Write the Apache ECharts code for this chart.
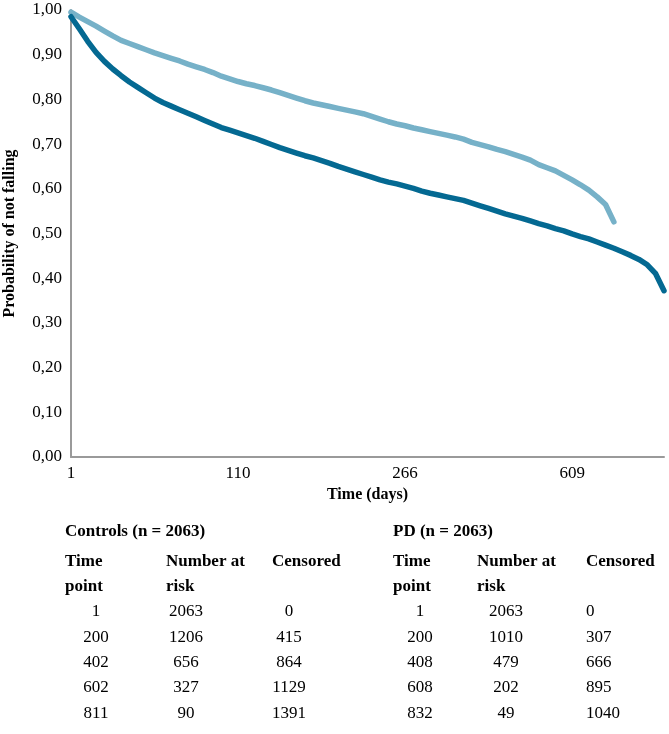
<!DOCTYPE html>
<html>
<head>
<meta charset="utf-8">
<script src="https://cdn.jsdelivr.net/npm/echarts@6/dist/echarts.min.js"></script>
<style>
  html, body { margin: 0; padding: 0; background: #fff; }
  #chart { width: 669px; height: 734px; }
</style>
</head>
<body>
<div id="chart"></div>
<script>
// x axis: one category per step, a tick label every 20 steps
const tickLabels = ['1', '110', '266', '609'];
const stepsPerTick = 20;

// probability of not falling
const darkCurve = [
  0.985, 0.958, 0.930, 0.905, 0.885, 0.868, 0.853, 0.839, 0.827, 0.815,
  0.803, 0.793, 0.785, 0.777, 0.769, 0.761, 0.753, 0.745, 0.737, 0.731,
  0.725, 0.719, 0.713, 0.706, 0.699, 0.692, 0.686, 0.680, 0.674, 0.669,
  0.663, 0.657, 0.650, 0.644, 0.638, 0.632, 0.626, 0.620, 0.615, 0.611,
  0.606, 0.601, 0.595, 0.590, 0.586, 0.582, 0.578, 0.574, 0.568, 0.562,
  0.556, 0.550, 0.544, 0.539, 0.534, 0.528, 0.522, 0.517, 0.511, 0.506,
  0.499, 0.493, 0.488, 0.481, 0.474, 0.467, 0.459, 0.451, 0.442, 0.430,
  0.410, 0.372
];
const lightCurve = [
  0.995, 0.984, 0.974, 0.964, 0.953, 0.942, 0.932, 0.925, 0.918, 0.911,
  0.904, 0.898, 0.892, 0.886, 0.879, 0.873, 0.867, 0.860, 0.852, 0.846,
  0.840, 0.835, 0.831, 0.826, 0.821, 0.815, 0.809, 0.803, 0.797, 0.792,
  0.788, 0.784, 0.780, 0.776, 0.772, 0.768, 0.762, 0.756, 0.750, 0.745,
  0.741, 0.736, 0.732, 0.728, 0.724, 0.720, 0.716, 0.711, 0.704, 0.699,
  0.694, 0.688, 0.683, 0.677, 0.671, 0.664, 0.654, 0.647, 0.640, 0.630,
  0.620, 0.609, 0.597, 0.582, 0.565, 0.526
];

// number-at-risk tables
const controlsTitle = 'Controls (n = 2063)';
const pdTitle = 'PD (n = 2063)';
const headerTop = ['Time', 'Number at', 'Censored'];
const headerBottom = ['point', 'risk', ''];
const controlsRows = [
  [1, 2063, 0],
  [200, 1206, 415],
  [402, 656, 864],
  [602, 327, 1129],
  [811, 90, 1391]
];
const pdRows = [
  [1, 2063, 0],
  [200, 1010, 307],
  [408, 479, 666],
  [608, 202, 895],
  [832, 49, 1040]
];

const FONT = '"Liberation Serif", "Times New Roman", serif';
const categories = darkCurve.map((v, i) => (i % stepsPerTick === 0 ? tickLabels[i / stepsPerTick] || '' : ''));

// table layout
const titleY = 532;
const headY = [562, 587];
const rowY0 = 612;
const rowGap = 25.3;
const tables = [
  { title: controlsTitle, rows: controlsRows, left: 65, headX: [65, 166, 272], colX: [96, 186, 289], align: ['center', 'center', 'center'] },
  { title: pdTitle, rows: pdRows, left: 393, headX: [393, 477, 586], colX: [420, 506, 586], align: ['center', 'center', 'left'] }
];

const textEl = (text, x, y, bold, align) => ({
  type: 'text',
  x: x,
  y: y,
  style: {
    text: String(text),
    font: (bold ? 'bold ' : '') + '17px ' + FONT,
    fill: '#000',
    textAlign: align || 'left',
    textVerticalAlign: 'middle'
  }
});

const graphics = [];
tables.forEach(t => {
  graphics.push(textEl(t.title, t.left, titleY, true));
  headerTop.forEach((h, j) => graphics.push(textEl(h, t.headX[j], headY[0], true)));
  headerBottom.forEach((h, j) => h && graphics.push(textEl(h, t.headX[j], headY[1], true)));
  t.rows.forEach((row, r) => {
    row.forEach((v, j) => graphics.push(textEl(v, t.colX[j], rowY0 + r * rowGap, false, t.align[j])));
  });
});

const chart = echarts.init(document.getElementById('chart'));
chart.setOption({
  backgroundColor: '#fff',
  animation: false,
  grid: { left: 71, right: 5, top: 10, bottom: 277, containLabel: false, outerBoundsMode: 'none' },
  xAxis: {
    type: 'category',
    data: categories,
    boundaryGap: false,
    name: 'Time (days)',
    nameLocation: 'middle',
    nameGap: 28,
    nameTextStyle: { fontFamily: FONT, fontWeight: 'bold', fontSize: 16, color: '#000' },
    axisLine: { lineStyle: { color: '#9a9a9a', width: 2 } },
    axisTick: { show: false },
    axisLabel: { interval: 0, fontFamily: FONT, fontSize: 17, color: '#000', margin: 8 },
    splitLine: { show: false }
  },
  yAxis: {
    type: 'value',
    min: 0,
    max: 1,
    interval: 0.1,
    name: 'Probability of not falling',
    nameLocation: 'middle',
    nameGap: 53,
    nameTextStyle: { fontFamily: FONT, fontWeight: 'bold', fontSize: 16, color: '#000' },
    axisLine: { show: true, lineStyle: { color: '#9a9a9a', width: 2 } },
    axisTick: { show: false },
    axisLabel: {
      fontFamily: FONT, fontSize: 17, color: '#000', margin: 9,
      formatter: v => v.toFixed(2).replace('.', ',')
    },
    splitLine: { show: false }
  },
  series: [
    {
      name: 'light',
      type: 'line',
      data: lightCurve,
      showSymbol: false,
      lineStyle: { color: '#76b1c8', width: 5.5, cap: 'round', join: 'round' }
    },
    {
      name: 'dark',
      type: 'line',
      data: darkCurve,
      showSymbol: false,
      lineStyle: { color: '#046992', width: 5.5, cap: 'round', join: 'round' }
    }
  ],
  graphic: graphics
});
</script>
</body>
</html>
